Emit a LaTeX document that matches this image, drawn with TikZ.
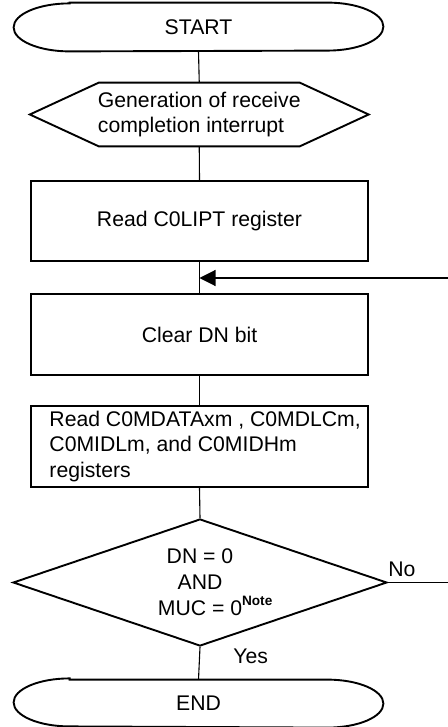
\documentclass[tikz,border=0pt]{standalone}
\usepackage{fontspec}
\setmainfont{Liberation Sans}
\usetikzlibrary{shapes.geometric,arrows.meta,calc}
\begin{document}
\begin{tikzpicture}[x=0.5pt,y=0.5pt,
  every node/.style={font=\fontsize{10.6}{12.7}\selectfont},
  shapeline/.style={line width=0.95pt},
  conn/.style={line width=0.55pt},
  termnode/.style={minimum width=184.5pt,minimum height=24pt,inner sep=0pt},
  hexnode/.style={minimum width=169pt,minimum height=31.5pt,inner sep=0pt,align=left},
  procbox/.style={shapeline,draw,minimum width=168.5pt,minimum height=40.5pt,inner sep=0pt},
  decnode/.style={shapeline,draw,diamond,aspect=2.94,minimum width=187pt,minimum height=63.5pt,inner sep=0pt,align=center,font=\fontsize{10.6}{13}\selectfont},
  lbl/.style={inner sep=0pt}
]
\useasboundingbox (0,0) rectangle (448,-727);
\newcommand\termoutline[1]{%
  \draw[shapeline] ([xshift=28pt]#1.north west) -- ([xshift=-28pt]#1.north east)
    arc[start angle=90,end angle=-90,x radius=28pt,y radius=12pt]
    -- ([xshift=28pt]#1.south west)
    arc[start angle=270,end angle=90,x radius=28pt,y radius=12pt] -- cycle;}

\node[termnode] (start) at (198.5,-27) {START};
\termoutline{start}

\node[hexnode] (hex) at (199.25,-114.5) {Generation of receive\\completion interrupt};
\draw[shapeline] (hex.west) -- ([xshift=34.5pt]hex.north west) -- ([xshift=-34.5pt]hex.north east)
  -- (hex.east) -- ([xshift=-34.5pt]hex.south east) -- ([xshift=34.5pt]hex.south west) -- cycle;

\node[procbox,minimum height=40pt] (box1) at (199.5,-221) {Read C0LIPT register};
\coordinate (join) at (199.5,-278);
\node[procbox] (box2) at (199.5,-334.5) {Clear DN bit};
\node[procbox] (box3) at (199.5,-446.5) {};
\node[lbl,anchor=west,align=left] (box3t) at ([xshift=9.5pt]box3.west) {Read C0MDATAxm , C0MDLCm,\\C0MIDLm, and C0MIDHm\\registers};

\node[decnode] (dec) at (200,-582.5) {DN = 0\\AND\\MUC = 0\rlap{\raisebox{5pt}{\fontsize{6.8}{7}\selectfont\bfseries Note}}};

\node[termnode,minimum height=23pt] (end) at (198.5,-703) {END};
\termoutline{end}

\coordinate (loopx) at (458,0);

\draw[conn] (start.south) -- (hex.north);
\draw[conn] (hex.south) -- (box1.north);
\draw[conn] (box1.south) -- (box2.north);
\draw[conn] (box2.south) -- (box3.north);
\draw[conn] (box3.south) -- (dec.north);
\draw[conn] (dec.south) -- (end.north);
\draw[conn,-{Triangle[length=8pt,width=8pt]}] (dec.east) -- (dec.east -| loopx) |- (join);

\node[lbl,anchor=base west] (nolab) at (388,-576) {No};
\node[lbl,anchor=base west] (yeslab) at (233,-663) {Yes};
\end{tikzpicture}
\end{document}
